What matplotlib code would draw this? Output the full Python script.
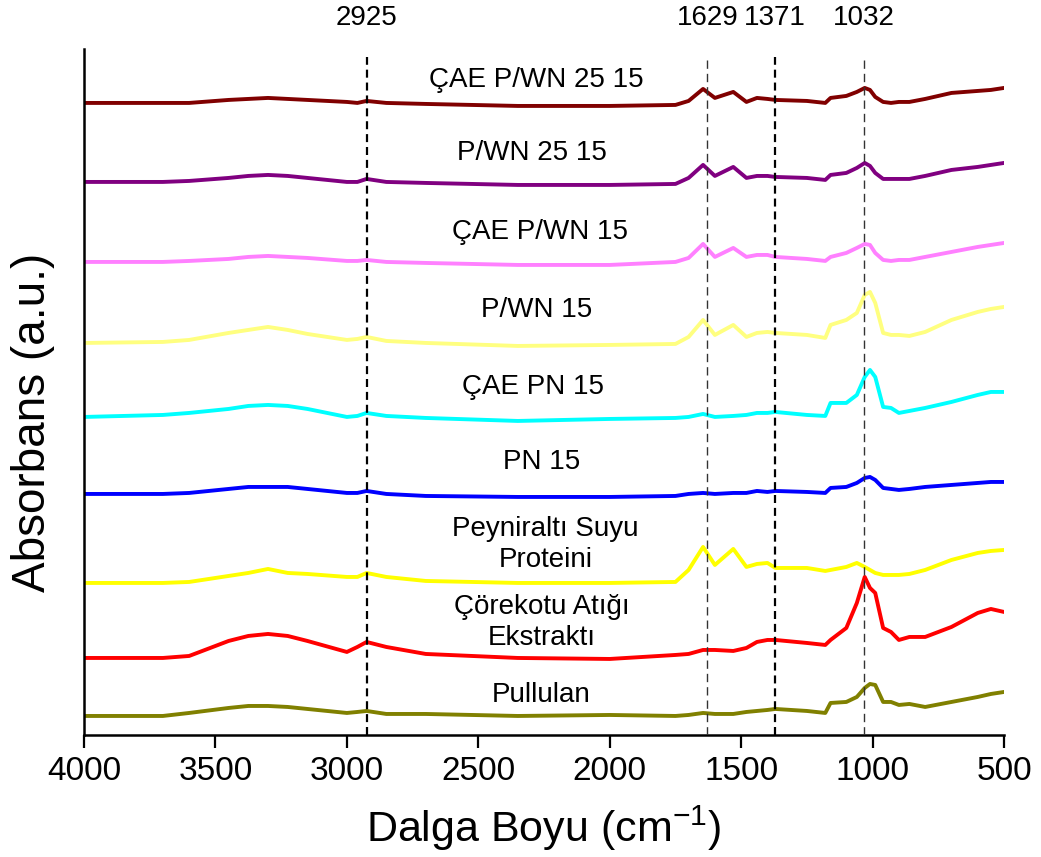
import numpy as np
import matplotlib
matplotlib.use("Agg")
import matplotlib.pyplot as plt

plt.rcParams['font.family'] = ['Liberation Sans', 'DejaVu Sans']
plt.rcParams['mathtext.default'] = 'regular'

# wavenumber grid (cm-1) the spectra were read at
wn = [4000, 3700, 3600, 3450, 3375, 3300, 3225, 3150, 3000, 2960, 2925, 2850, 2700, 2350, 2000,
      1750, 1700, 1645, 1600, 1530, 1480, 1440, 1400, 1370, 1250, 1180, 1160, 1100,
      1060, 1030, 1010, 990, 960, 930, 900, 860, 800, 700, 600, 550, 500]

# absorbance (a.u.) relative to each spectrum's own baseline
cae_pwn_25_15 = [0, 0, 0, 3, 4, 5, 4, 3, 1, 0, 2, 0, -1, -3, -3, -2, 2, 14, 5, 11, 1, 5, 4, 3, 2, 0,
                 5, 7, 11, 15, 13, 6, 1, 0, 1, 1, 4, 10, 12, 13, 15]
pwn_25_15 = [0, 0, 1, 4, 6, 7, 6, 4, 0, 0, 3, 0, -1, -3, -3, -2, 4, 17, 6, 15, 4, 6, 6, 5, 4, 2,
             7, 9, 14, 19, 16, 9, 3, 3, 3, 3, 6, 12, 15, 17, 19]
cae_pwn_15 = [0, 0, 1, 3, 5, 6, 5, 4, 1, 1, 2, 0, -1, -3, -3, 0, 4, 18, 5, 14, 5, 7, 7, 5, 3, 1,
              5, 9, 14, 18, 17, 9, 2, 1, 2, 2, 5, 10, 15, 17, 19]
pwn_15 = [0, 1, 3, 10, 13, 16, 13, 9, 3, 4, 6, 2, 0, -3, -2, -1, 6, 23, 8, 18, 6, 10, 11, 10, 8, 5,
          18, 23, 30, 48, 51, 40, 10, 8, 8, 7, 11, 23, 31, 34, 36]
cae_pn_15 = [0, 2, 4, 8, 11, 12, 11, 8, 0, 1, 4, 1, -1, -4, -2, -1, 0, 3, 0, 1, 2, 4, 4, 5, 2, 1,
             14, 14, 22, 40, 47, 40, 10, 9, 4, 6, 9, 15, 22, 25, 25]
pn_15 = [0, 0, 1, 5, 7, 7, 7, 5, 1, 1, 3, 0, -2, -3, -3, -2, 0, 1, 0, 1, 1, 3, 2, 3, 2, 1,
         6, 7, 11, 16, 17, 14, 6, 5, 4, 5, 7, 9, 11, 12, 12]
wpc = [0, 0, 1, 7, 10, 14, 10, 9, 6, 6, 10, 6, 2, 0, 0, 1, 13, 36, 18, 34, 16, 19, 20, 15, 15, 12,
       13, 16, 20, 16, 13, 10, 8, 8, 8, 9, 13, 23, 30, 32, 33]
cae = [0, 0, 2, 17, 22, 24, 22, 17, 6, 11, 16, 11, 4, 0, -1, 3, 4, 8, 8, 7, 10, 16, 18, 18, 15, 13,
       18, 30, 55, 81, 70, 65, 30, 26, 18, 21, 21, 31, 45, 49, 46]
pullulan = [0, 0, 3, 8, 10, 10, 9, 7, 3, 4, 5, 2, 2, 0, 1, 0, 1, 3, 2, 2, 4, 5, 6, 7, 5, 3,
            13, 14, 19, 28, 32, 31, 14, 14, 11, 12, 9, 14, 19, 22, 24]

spectra = [cae_pwn_25_15, pwn_25_15, cae_pwn_15, pwn_15, cae_pn_15, pn_15, wpc, cae, pullulan]
offsets = [632, 553, 473, 392, 318, 241, 152, 77, 19]
names = ['ÇAE P/WN 25 15', 'P/WN 25 15', 'ÇAE P/WN 15', 'P/WN 15', 'ÇAE PN 15', 'PN 15',
         'Peyniraltı Suyu\nProteini', 'Çörekotu Atığı\nEkstraktı', 'Pullulan']
colors = ['#800000', '#800080', '#FF80FF', '#FFFF80', '#00FFFF', '#0000FF', '#FFFF00', '#FF0000', '#808000']
# where the name sits (wavenumber, height)
name_x = [2280, 2296, 2265, 2280, 2292, 2258, 2245, 2258, 2261]
name_y = [655, 582, 503, 425, 348, 273, 190, 112, 40]

peaks = [2925, 1629, 1371, 1032]

fig = plt.figure(figsize=(10.41, 8.57), dpi=100)
ax = fig.add_axes([0.0807, 0.1424, 0.8838, 0.8005])

for s, off, c in zip(spectra, offsets, colors):
    ax.plot(wn, np.array(s) + off, color=c, lw=2.8, zorder=2)

for name, x, y in zip(names, name_x, name_y):
    ax.text(x, y, name, fontsize=20, ha='center', va='center', linespacing=1.25)

for p in peaks:
    if p in (2925, 1371):
        ax.axvline(p, ymin=0, ymax=0.988, color='black', lw=1.6, linestyle=(0, (3.6, 2.2)), zorder=3)
    else:
        ax.axvline(p, ymin=0, ymax=0.988, color='#333333', lw=1.0, linestyle=(0, (6, 3.6)), zorder=3)
    ax.text(p, 1.045, str(p), transform=ax.get_xaxis_transform(), fontsize=20,
            ha='center', va='center')

ax.set_xlim(4000, 500)
ax.set_ylim(0, 686)
ax.set_xticks([4000, 3500, 3000, 2500, 2000, 1500, 1000, 500])
ax.set_yticks([])
ax.spines['top'].set_visible(False)
ax.spines['right'].set_visible(False)
ax.spines['left'].set_linewidth(1.8)
ax.spines['bottom'].set_linewidth(1.8)
ax.tick_params(axis='x', direction='out', length=9.4, width=1.6, labelsize=24, pad=6)

ax.set_xlabel('Dalga Boyu (cm$^{-1}$)', fontsize=31, labelpad=12)
ax.set_ylabel('Absorbans (a.u.)', fontsize=33)
ax.yaxis.set_label_coords(-0.031, 0.456)

fig.savefig('out.png', dpi=100)
